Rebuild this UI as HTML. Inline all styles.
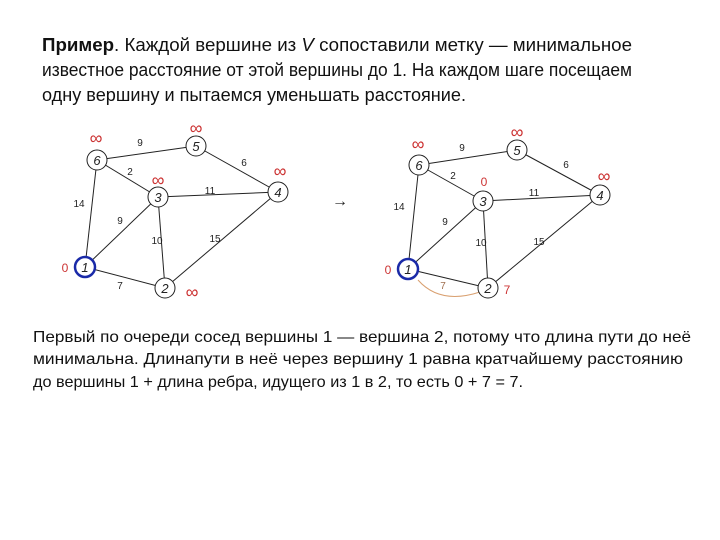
<!DOCTYPE html>
<html><head><meta charset="utf-8"><style>html,body{margin:0;padding:0;background:#fff}svg{display:block}</style></head>
<body>
<svg width="720" height="540" xmlns="http://www.w3.org/2000/svg" font-family="Liberation Sans, sans-serif">
<rect width="720" height="540" fill="#fff"/>
<g font-size="18" fill="#111">
<text x="42" y="51" textLength="590" lengthAdjust="spacingAndGlyphs"><tspan font-weight="bold">Пример</tspan>. Каждой вершине из <tspan font-style="italic">V</tspan> сопоставили метку — минимальное</text>
<text x="42" y="76" textLength="590" lengthAdjust="spacingAndGlyphs">известное расстояние от этой вершины до 1. На каждом шаге посещаем</text>
<text x="42" y="101" textLength="424" lengthAdjust="spacingAndGlyphs">одну вершину и пытаемся уменьшать расстояние.</text>
</g>
<g font-size="16" fill="#111">
<text x="33" y="342" textLength="658" lengthAdjust="spacingAndGlyphs">Первый по очереди сосед вершины 1 — вершина 2, потому что длина пути до неё</text>
<text x="33" y="364" textLength="650" lengthAdjust="spacingAndGlyphs">минимальна. Длинапути в неё через вершину 1 равна кратчайшему расстоянию</text>
<text x="33" y="387" textLength="490" lengthAdjust="spacingAndGlyphs">до вершины 1 + длина ребра, идущего из 1 в 2, то есть 0 + 7 = 7.</text>
</g>
<g stroke="#222" stroke-width="1" fill="none">
<line x1="97" y1="160" x2="196" y2="146"/><line x1="196" y1="146" x2="278" y2="192"/>
<line x1="97" y1="160" x2="158" y2="197"/><line x1="158" y1="197" x2="278" y2="192"/>
<line x1="97" y1="160" x2="85" y2="267"/><line x1="158" y1="197" x2="85" y2="267"/>
<line x1="158" y1="197" x2="165" y2="288"/><line x1="85" y1="267" x2="165" y2="288"/>
<line x1="165" y1="288" x2="278" y2="192"/>
<line x1="419" y1="165" x2="517" y2="150"/><line x1="517" y1="150" x2="600" y2="195"/>
<line x1="419" y1="165" x2="483" y2="201"/><line x1="483" y1="201" x2="600" y2="195"/>
<line x1="419" y1="165" x2="408" y2="269"/><line x1="483" y1="201" x2="408" y2="269"/>
<line x1="483" y1="201" x2="488" y2="288"/><line x1="408" y1="269" x2="488" y2="288"/>
<line x1="488" y1="288" x2="600" y2="195"/>
<path d="M418 280 Q440 305 480 292" stroke="#d9a070"/>
</g>
<g fill="#fff" stroke="#222" stroke-width="1">
<circle cx="97" cy="160" r="10"/><circle cx="196" cy="146" r="10"/><circle cx="158" cy="197" r="10"/>
<circle cx="278" cy="192" r="10"/><circle cx="165" cy="288" r="10"/>
<circle cx="419" cy="165" r="10"/><circle cx="517" cy="150" r="10"/><circle cx="483" cy="201" r="10"/>
<circle cx="600" cy="195" r="10"/><circle cx="488" cy="288" r="10"/>
<circle cx="85" cy="267" r="10" stroke="#1a2aa8" stroke-width="2.5"/>
<circle cx="408" cy="269" r="10" stroke="#1a2aa8" stroke-width="2.5"/>
</g>
<g font-size="13" font-style="italic" fill="#222" text-anchor="middle">
<text x="97" y="165">6</text><text x="196" y="151">5</text><text x="158" y="202">3</text><text x="278" y="197">4</text><text x="165" y="293">2</text><text x="85" y="272">1</text>
<text x="419" y="170">6</text><text x="517" y="155">5</text><text x="483" y="206">3</text><text x="600" y="200">4</text><text x="488" y="293">2</text><text x="408" y="274">1</text>
</g>
<g font-size="10" fill="#222" text-anchor="middle">
<text x="140" y="146">9</text><text x="244" y="166">6</text><text x="130" y="175">2</text><text x="210" y="194">11</text>
<text x="79" y="207">14</text><text x="120" y="224">9</text><text x="157" y="244">10</text><text x="215" y="242">15</text><text x="120" y="289">7</text>
<text x="462" y="151">9</text><text x="566" y="168">6</text><text x="453" y="179">2</text><text x="534" y="196">11</text>
<text x="399" y="210">14</text><text x="445" y="225">9</text><text x="481" y="246">10</text><text x="539" y="245">15</text><text x="443" y="289" fill="#a07050">7</text>
</g>
<g font-size="18" fill="#c33" text-anchor="middle">
<text x="96" y="144">∞</text><text x="196" y="134">∞</text><text x="158" y="186">∞</text><text x="280" y="177">∞</text><text x="192" y="298">∞</text>
<text x="418" y="150">∞</text><text x="517" y="138">∞</text><text x="604" y="182">∞</text>
</g>
<g font-size="12" fill="#c33" text-anchor="middle">
<text x="65" y="272">0</text><text x="484" y="186">0</text><text x="507" y="294">7</text><text x="388" y="274">0</text>
</g>
<text x="340" y="206" font-size="16" fill="#222" text-anchor="middle">→</text>
</svg>
</body></html>
